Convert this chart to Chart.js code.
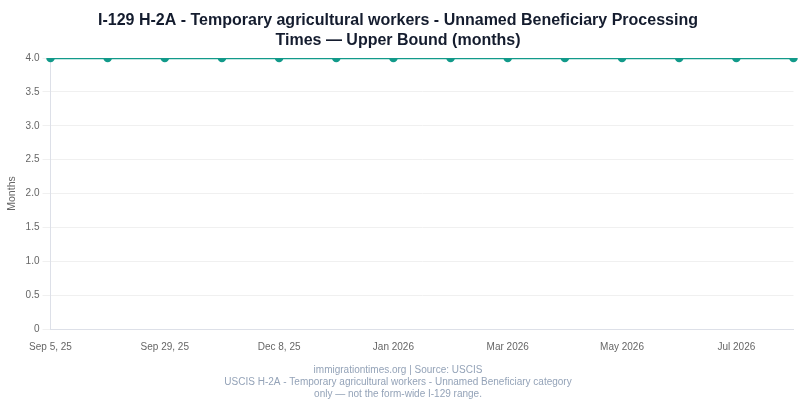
<!DOCTYPE html>
<html lang="en">
<head>
  <meta charset="UTF-8">
  <title>I-129 H-2A Processing Times</title>
  <script src="https://cdn.jsdelivr.net/npm/chart.js"></script>
  <style>
    html, body { margin: 0; padding: 0; background: #fff; }
    #wrap { width: 800px; height: 400px; }
  </style>
</head>
<body>
  <div id="wrap"><canvas id="chart"></canvas></div>
  <script>
    const categories = [
      "Sep 5, 25", "Sep 15, 25", "Sep 29, 25", "Nov 3, 25", "Dec 8, 25", "Dec 2025", "Jan 2026",
      "Feb 2026", "Mar 2026", "Apr 2026", "May 2026", "Jun 2026", "Jul 2026", "Aug 2026"
    ];
    const upperBound = [4, 4, 4, 4, 4, 4, 4, 4, 4, 4, 4, 4, 4, 4];
    const yTicks = [0, 0.5, 1, 1.5, 2, 2.5, 3, 3.5, 4];

    const teal = "#129a8a";

    new Chart(document.getElementById("chart"), {
      type: "line",
      data: {
        labels: categories,
        datasets: [{
          label: "Upper Bound (months)",
          data: upperBound,
          borderColor: teal,
          backgroundColor: teal,
          borderWidth: 2.5,
          pointRadius: 3,
          pointBackgroundColor: teal,
          pointBorderColor: teal,
          tension: 0
        }]
      },
      options: {
        responsive: true,
        maintainAspectRatio: false,
        animation: false,
        layout: { padding: { left: 2, right: 6, top: 0, bottom: 0 } },
        plugins: {
          legend: { display: false },
          title: {
            display: true,
            text: ["I-129 H-2A - Temporary agricultural workers - Unnamed Beneficiary Processing", "Times \u2014 Upper Bound (months)"],
            color: "#141c2e",
            font: { size: 16, weight: "bold", lineHeight: 1.25 },
            padding: { top: 11, bottom: 7 }
          },
          subtitle: {
            display: true,
            position: "bottom",
            text: ["immigrationtimes.org | Source: USCIS", "USCIS H-2A - Temporary agricultural workers - Unnamed Beneficiary category", "only \u2014 not the form-wide I-129 range."],
            color: "#94a3b8",
            font: { size: 10, lineHeight: 1.2 },
            padding: { top: 7, bottom: 0 }
          }
        },
        scales: {
          x: {
            grid: { display: false },
            border: { color: "#dde0e8" },
            ticks: {
              color: "#666",
              font: { size: 10 },
              padding: 4,
              maxRotation: 0,
              autoSkip: false,
              callback: (v, i) => i % 2 === 0 ? categories[i] : ""
            }
          },
          y: {
            min: 0,
            max: 4,
            afterBuildTicks: axis => { axis.ticks = yTicks.map(v => ({ value: v })); },
            grid: { color: "#f0f0f0" },
            border: { color: "#dde0e8" },
            title: { display: true, text: "Months", color: "#666", font: { size: 10.5 } },
            ticks: {
              color: "#666",
              font: { size: 10 },
              callback: v => v === 0 ? "0" : v.toFixed(1)
            }
          }
        }
      }
    });
  </script>
</body>
</html>
